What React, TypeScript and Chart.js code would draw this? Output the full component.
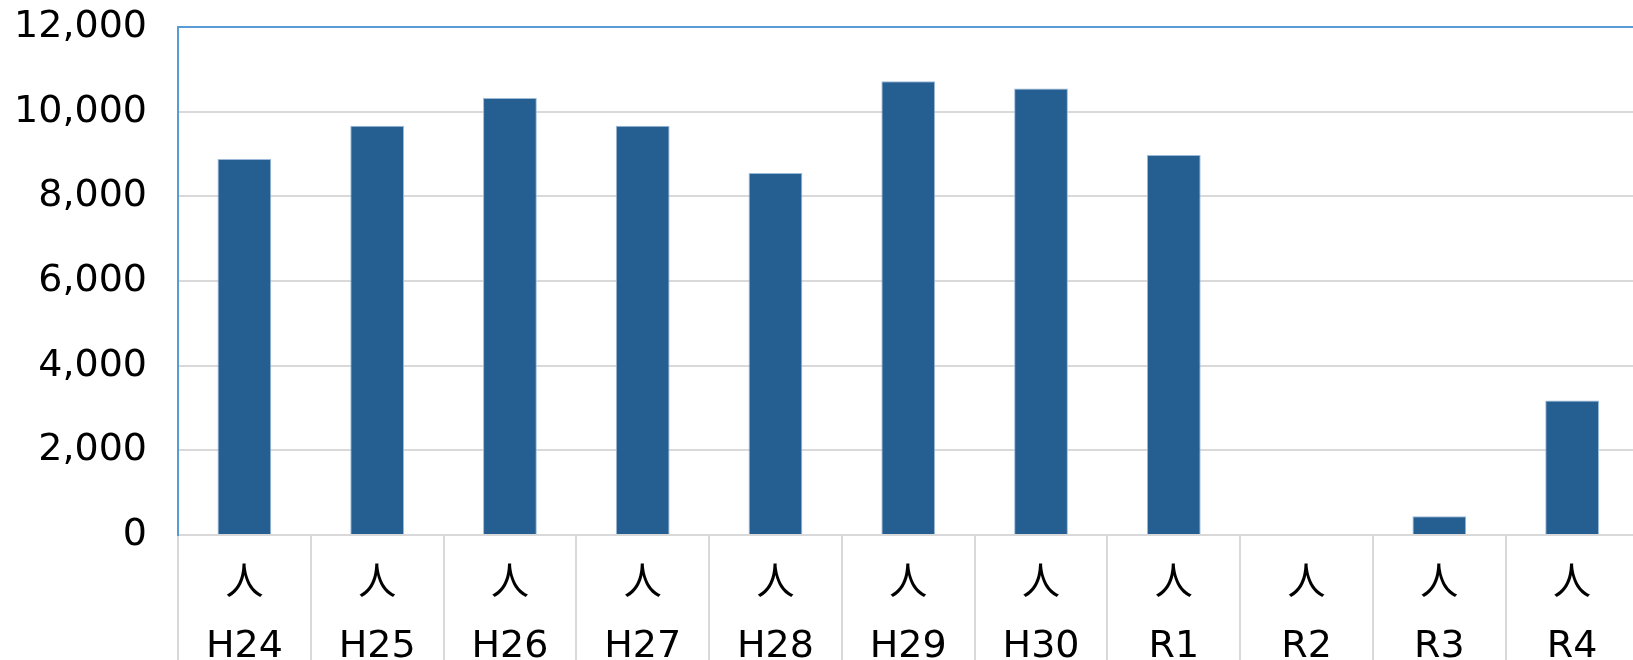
import React, { useEffect, useRef } from "react";
import { Chart, registerables } from "chart.js";

Chart.register(...registerables);

const years = ["H24", "H25", "H26", "H27", "H28", "H29", "H30", "R1", "R2", "R3", "R4"];
const unitLabel = "人";
const visitors = [8880, 9665, 10320, 9665, 8550, 10720, 10545, 8975, 0, 440, 3180];
const yTicks = [0, 2000, 4000, 6000, 8000, 10000, 12000];

const W = 1660;
const H = 700;

export default function App() {
  const ref = useRef<HTMLCanvasElement | null>(null);

  useEffect(() => {
    const canvas = ref.current;
    if (!canvas) return;
    const font = { family: "'DejaVu Sans', 'Noto Sans CJK JP', sans-serif", size: 38 };
    const chart = new Chart(canvas, {
      type: "bar",
      data: {
        labels: years.map((y) => [unitLabel, y]),
        datasets: [
          {
            data: visitors,
            backgroundColor: "#255e91",
            borderColor: "#9dbad8",
            borderWidth: 1,
            categoryPercentage: 1,
            barPercentage: 0.405,
          },
        ],
      },
      options: {
        animation: false,
        responsive: false,
        devicePixelRatio: 1,
        layout: { padding: { top: 27, right: 21.5, left: 0, bottom: 0 } },
        plugins: { legend: { display: false }, tooltip: { enabled: false } },
        scales: {
          x: {
            offset: true,
            grid: {
              offset: true,
              drawOnChartArea: false,
              drawTicks: true,
              tickLength: 140,
              color: "#d9d9d9",
              lineWidth: 2,
            },
            border: { display: true, color: "#d9d9d9", width: 2 },
            ticks: {
              font: { ...font, lineHeight: 63 / 38 },
              color: "#000",
              padding: -122,
              maxRotation: 0,
              autoSkip: false,
            },
            afterFit: (scale: any) => {
              scale.height = H - 535;
              scale.paddingLeft = 0;
              scale.paddingRight = 0;
            },
          },
          y: {
            min: 0,
            max: yTicks[yTicks.length - 1],
            afterBuildTicks: (scale: any) => {
              scale.ticks = yTicks.map((v) => ({ value: v }));
            },
            grid: {
              drawTicks: false,
              lineWidth: 2,
              color: (ctx: any) =>
                ctx.tick && ctx.tick.value === yTicks[yTicks.length - 1] ? "#5b9bd5" : "#d9d9d9",
            },
            border: { display: true, color: "#5b9bd5", width: 2 },
            ticks: {
              font,
              color: "#000",
              padding: 31,
              callback: (v: any) => Number(v).toLocaleString("en-US"),
            },
            afterFit: (scale: any) => {
              scale.width = 178;
              scale.paddingTop = 0;
              scale.paddingBottom = 0;
            },
          },
        },
      },
    });
    return () => chart.destroy();
  }, []);

  return (
    <div
      style={{
        position: "fixed",
        left: 0,
        top: 0,
        width: "100vw",
        height: "100vh",
        overflow: "hidden",
        background: "#fff",
      }}
    >
      <canvas ref={ref} width={W} height={H} style={{ width: W, height: H, display: "block" }} />
    </div>
  );
}
